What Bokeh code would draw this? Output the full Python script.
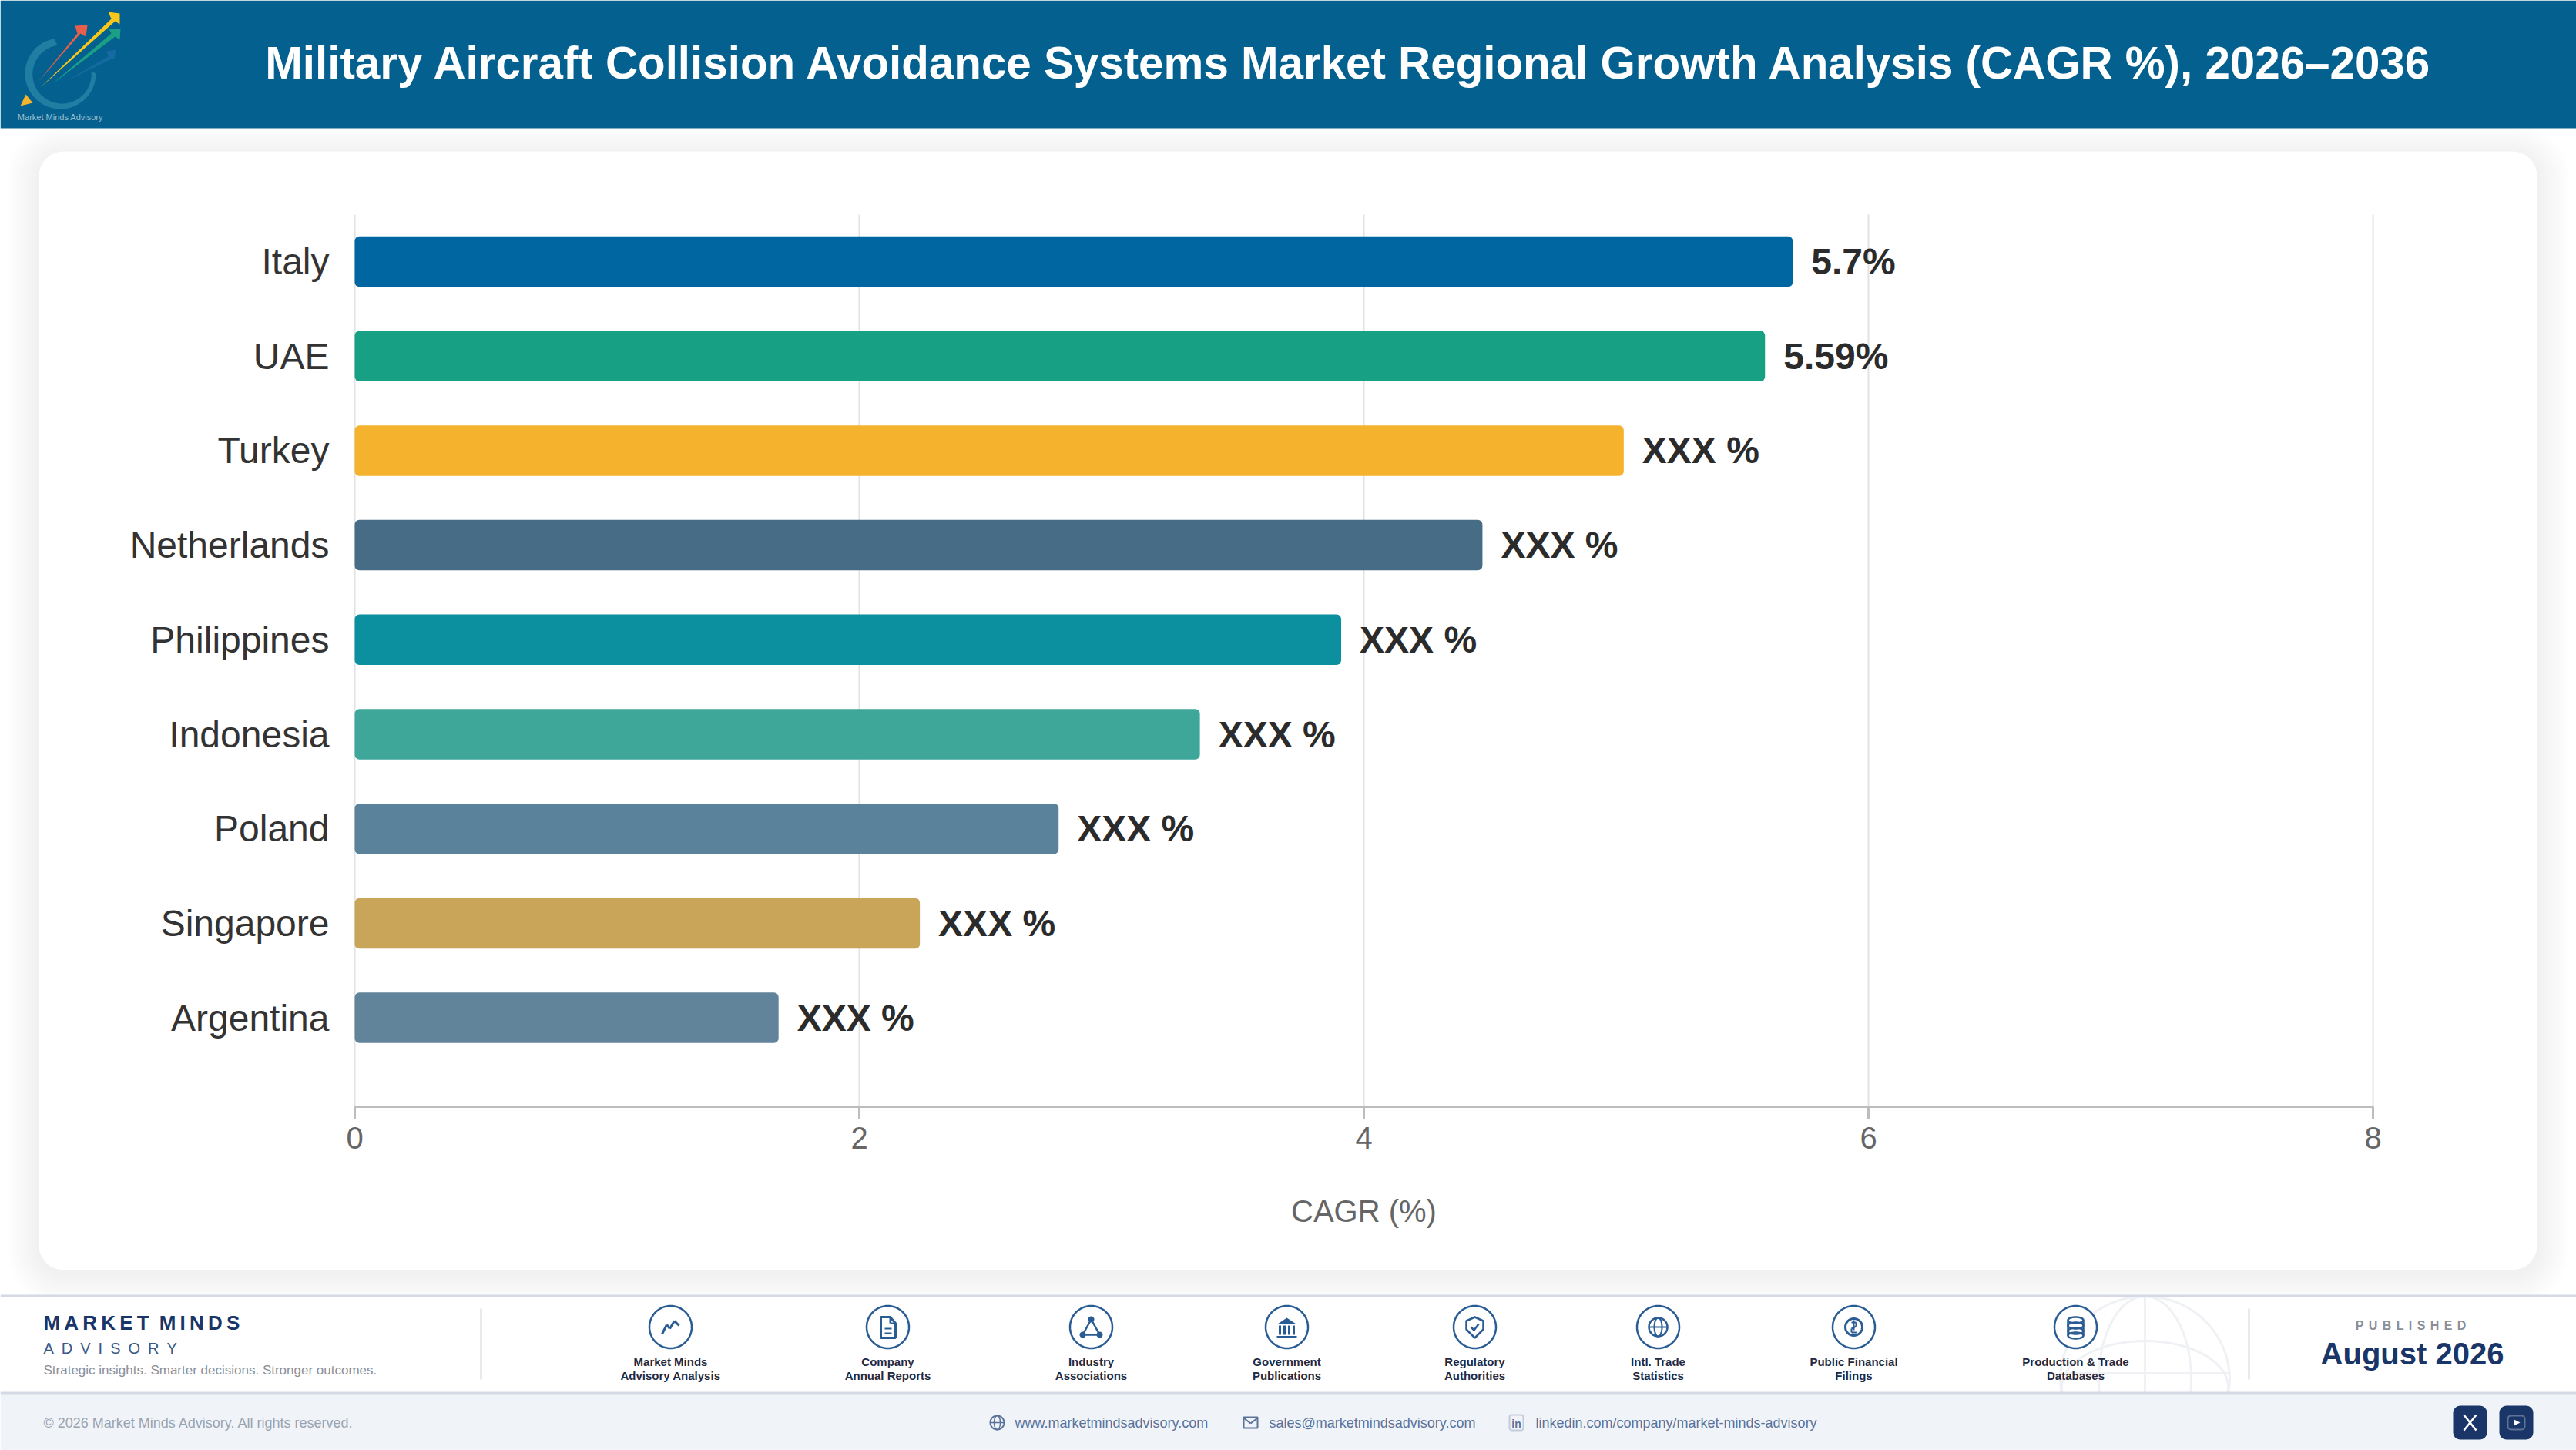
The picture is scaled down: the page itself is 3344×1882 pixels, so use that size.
import numpy as np
from bokeh.embed import file_html
from bokeh.models import (BoxAnnotation, ColumnDataSource, FixedTicker, Label,
                          LinearAxis, PolyAnnotation, Range1d)
from bokeh.plotting import figure
from bokeh.resources import INLINE

# ---- data ----
categories = ["Italy", "UAE", "Turkey", "Netherlands", "Philippines",
              "Indonesia", "Poland", "Singapore", "Argentina"]
cagr_values = [5.70, 5.59, 5.03, 4.47, 3.91, 3.35, 2.79, 2.24, 1.68]
value_labels = ["5.7%", "5.59%", "XXX %", "XXX %", "XXX %", "XXX %", "XXX %", "XXX %", "XXX %"]
bar_colors = ["#0066A1", "#18A085", "#F5B22D", "#466C86", "#0C90A0",
              "#3FA69A", "#5A829B", "#C8A558", "#62849B"]
x_ticks = [0, 2, 4, 6, 8]
title_text = "Military Aircraft Collision Avoidance Systems Market Regional Growth Analysis (CAGR %), 2026\u20132036"
source_labels = [("Market Minds", "Advisory Analysis"), ("Company", "Annual Reports"),
                 ("Industry", "Associations"), ("Government", "Publications"),
                 ("Regulatory", "Authorities"), ("Intl. Trade", "Statistics"),
                 ("Public Financial", "Filings"), ("Production & Trade", "Databases")]

W, H = 3344, 1882
X0 = 460          # pixel of CAGR 0
PX = 327.5        # pixels per CAGR unit
PLOT_T, PLOT_B = 278, 1436
row_pitch = 122.7
row0 = 339


def row_of(y):
    return (y - row0) / row_pitch


p = figure(width=W, height=H, output_backend="svg", toolbar_location=None,
           x_range=Range1d(-X0 / PX, (W - X0) / PX),
           y_range=Range1d(row_of(H), row_of(0)),
           x_axis_type=None, y_axis_type=None,
           min_border_left=0, min_border_right=0, min_border_top=0, min_border_bottom=0)
p.border_fill_color = "#FFFFFF"
p.background_fill_color = "#FFFFFF"
p.outline_line_color = None

NAVY = "#1A3668"
ICON = "#2A5C94"
LVL = "image"


def sy(y):
    return H - float(y)


def box(l, t, r, b, color, alpha=1.0, radius=0, line=None, lw=1):
    p.add_layout(BoxAnnotation(left=float(l), right=float(r), top=sy(t), bottom=sy(b),
                               left_units="screen", right_units="screen",
                               top_units="screen", bottom_units="screen",
                               fill_color=color, fill_alpha=alpha, line_color=line, line_width=lw,
                               border_radius=radius, level=LVL))


def poly(pts, fill=None, line=None, lw=1, alpha=1.0):
    p.add_layout(PolyAnnotation(xs=[float(a) for a, _ in pts], ys=[sy(b) for _, b in pts],
                                xs_units="screen", ys_units="screen",
                                fill_color=fill if fill else "#FFFFFF", fill_alpha=alpha if fill else 0,
                                line_color=line if line else "#FFFFFF", line_alpha=alpha if line else 0,
                                line_width=lw, level=LVL))


def seg(pts, color, lw=2.5):
    for (x0, y0), (x1, y1) in zip(pts[:-1], pts[1:]):
        d = np.hypot(x1 - x0, y1 - y0) or 1
        nx, ny = -(y1 - y0) / d * lw / 2, (x1 - x0) / d * lw / 2
        poly([(x0 + nx, y0 + ny), (x1 + nx, y1 + ny), (x1 - nx, y1 - ny), (x0 - nx, y0 - ny)], fill=color)


def ell(cx, cy, rx, ry, line=None, fill=None, lw=2.5, alpha=1.0):
    t = np.linspace(0, 2 * np.pi, 72, endpoint=False)
    poly(list(zip(cx + rx * np.cos(t), cy + ry * np.sin(t))), fill=fill, line=line, lw=lw, alpha=alpha)


def text(x, y, s, size, color, bold=False, align="left"):
    p.add_layout(Label(x=float(x), y=sy(y), x_units="screen", y_units="screen", text=s,
                       text_font="Liberation Sans", text_font_size=f"{size}px",
                       text_font_style="bold" if bold else "normal", text_color=color,
                       text_align=align, text_baseline="middle", level=LVL))


# ---- page chrome ----
for i in range(14, 0, -1):
    box(50 - i * 3, 196 - i * 3 + 5, 3293 + i * 3, 1648 + i * 3 + 5, "#000000", 0.0035, 32 + i * 3)
box(50, 196, 3293, 1648, "#FFFFFF", 1.0, 32)

# header
box(0, 0, 3344, 166, "#04608F")
text(1752, 81, title_text, 58.3, "#FFFFFF", bold=True, align="center")

# logo
theta = np.radians(np.linspace(-100, -360, 70))
outer = [(78 + 46 * np.cos(a), 95 + 46 * np.sin(a)) for a in theta]
inner = [(80 + (38 + 4 * np.sin(a)) * np.cos(a), 92 + (38 + 4 * np.sin(a)) * np.sin(a)) for a in theta[::-1]]
poly(outer + inner, fill="#2C87A8", alpha=0.75)
poly([(48, 107), (100, 43), (97, 33), (113, 32), (111, 47), (104, 43)], fill="#E8604C")
poly([(52, 113), (144, 24), (140, 15), (155, 17), (155, 31), (149, 27)], fill="#F7C71C")
poly([(68, 108), (144, 43), (141, 37), (156, 37), (155, 51), (149, 47)], fill="#1BA085")
poly([(83, 106), (140, 73), (138, 66), (150, 64), (148, 76), (142, 77)], fill="#1A6EA5", alpha=0.8)
poly([(26, 137), (33, 122), (42, 133)], fill="#F7B32B")
text(78, 151, "Market Minds Advisory", 11, "#9CC0D2", align="center")

# footer bands and watermark globe
box(0, 1681, 3344, 1807, "#FFFFFF")
GLOBE = "#F0F1F5"
ell(2784, 1790, 110, 108, line=GLOBE, lw=3)
ell(2784, 1790, 60, 108, line=GLOBE, lw=3)
ell(2784, 1800, 108, 60, line=GLOBE, lw=3)
seg([(2784, 1682), (2784, 1807)], GLOBE, 3)
seg([(2674, 1782), (2894, 1782)], GLOBE, 3)
box(0, 1807, 3344, 1882, "#F0F4F9")
box(0, 1680, 3344, 1683, "#D5D9E6")
box(0, 1806, 3344, 1809, "#D5D9E6")
box(623, 1698, 625, 1790, "#D0D5DD")
box(2918, 1698, 2920, 1790, "#D0D5DD")

# footer left block
T2 = "\u2009"
E2 = "\u2002"
text(56, 1716, T2.join("MARKET") + E2 + T2.join("MINDS"), 26, NAVY, bold=True)
text(56, 1749, E2.join("ADVISORY"), 20, "#3D5A85")
text(56, 1778, "Strategic insights. Smarter decisions. Stronger outcomes.", 17, "#8A8F99")

# source icons
icon_x = [870, 1152, 1416, 1670, 1914, 2152, 2406, 2694]
icon_y = 1722
for cx, (a, b) in zip(icon_x, source_labels):
    ell(cx, icon_y, 27.5, 27.5, line=ICON, fill="#FFFFFF", lw=2.5)
    text(cx, 1767, a, 15, "#1F2A44", bold=True, align="center")
    text(cx, 1785, b, 15, "#1F2A44", bold=True, align="center")

c = icon_x[0]
seg([(c - 11, icon_y + 9), (c - 5, icon_y - 3), (c - 1, icon_y + 2), (c + 5, icon_y - 8), (c + 11, icon_y - 2)], ICON, 3)
c = icon_x[1]
poly([(c - 9, icon_y - 13), (c + 3, icon_y - 13), (c + 10, icon_y - 5), (c + 10, icon_y + 14), (c - 9, icon_y + 14)], line=ICON, lw=3)
seg([(c + 3, icon_y - 13), (c + 3, icon_y - 5), (c + 10, icon_y - 5)], ICON, 2)
seg([(c - 4, icon_y + 2), (c + 5, icon_y + 2)], ICON, 2)
seg([(c - 4, icon_y + 8), (c + 5, icon_y + 8)], ICON, 2)
c = icon_x[2]
poly([(c, icon_y - 10), (c + 11, icon_y + 10), (c - 11, icon_y + 10)], line=ICON, lw=2.5)
for dx, dy in [(0, -10), (11, 10), (-11, 10)]:
    ell(c + dx, icon_y + dy, 4, 4, fill=ICON)
c = icon_x[3]
poly([(c, icon_y - 12), (c + 12, icon_y - 4), (c - 12, icon_y - 4)], fill=ICON)
for dx in [-9, -3, 3, 9]:
    seg([(c + dx, icon_y - 2), (c + dx, icon_y + 10)], ICON, 3)
seg([(c - 13, icon_y + 13), (c + 13, icon_y + 13)], ICON, 3)
c = icon_x[4]
poly([(c, icon_y - 13), (c + 11, icon_y - 8), (c + 11, icon_y + 3), (c, icon_y + 14), (c - 11, icon_y + 3), (c - 11, icon_y - 8)], line=ICON, lw=2.5)
seg([(c - 5, icon_y), (c - 1, icon_y + 4), (c + 5, icon_y - 4)], ICON, 2.5)
c = icon_x[5]
ell(c, icon_y, 12, 12, line=ICON, lw=2.5)
ell(c, icon_y, 5, 12, line=ICON, lw=2)
seg([(c - 12, icon_y), (c + 12, icon_y)], ICON, 2)
c = icon_x[6]
ell(c, icon_y, 11, 11, line=ICON, lw=3)
seg([(c - 3, icon_y - 6), (c + 3, icon_y - 6), (c + 3, icon_y - 1), (c - 3, icon_y + 2), (c - 3, icon_y + 7), (c + 4, icon_y + 7)], ICON, 2)
seg([(c, icon_y - 9), (c, icon_y + 4)], ICON, 2)
c = icon_x[7]
for dy in [-9, -2, 5, 11]:
    ell(c, icon_y + dy, 10, 4, line=ICON, lw=2.5)
seg([(c - 10, icon_y - 9), (c - 10, icon_y + 11)], ICON, 2.5)
seg([(c + 10, icon_y - 9), (c + 10, icon_y + 11)], ICON, 2.5)

# published block
text(3129, 1720, (T2 + T2).join("PUBLISHED"), 16, "#8A8F99", bold=True, align="center")
text(3131, 1756, "August 2026", 40, NAVY, bold=True, align="center")

# bottom band
LINK = "#5A7299"
text(56, 1846, "\u00a9 2026 Market Minds Advisory. All rights reserved.", 18, "#9AA3B0")
text(1317, 1846, "www.marketmindsadvisory.com", 18, LINK)
text(1647, 1846, "sales@marketmindsadvisory.com", 18, LINK)
text(1993, 1846, "linkedin.com/company/market-minds-advisory", 18, LINK)
ell(1294, 1846, 9, 9, line=LINK, lw=2)
ell(1294, 1846, 4, 9, line=LINK, lw=1.5)
seg([(1285, 1846), (1303, 1846)], LINK, 1.5)
poly([(1614, 1839), (1632, 1839), (1632, 1853), (1614, 1853)], line=LINK, lw=2)
seg([(1614, 1840), (1623, 1847), (1632, 1840)], LINK, 2)
box(1959, 1836, 1977, 1856, "#F0F4F9", 1.0, 3, line=LINK, lw=2)
text(1968, 1847, "in", 14, LINK, bold=True, align="center")
box(3184, 1824, 3228, 1868, NAVY, 1.0, 9)
box(3244, 1824, 3288, 1868, NAVY, 1.0, 9)
seg([(3198, 1836), (3214, 1856)], "#FFFFFF", 2.5)
seg([(3214, 1836), (3198, 1856)], "#FFFFFF", 2.5)
box(3255, 1837, 3277, 1855, NAVY, 1.0, 4, line="#FFFFFF", lw=2)
poly([(3263, 1842), (3271, 1846), (3263, 1850)], fill="#FFFFFF")

# ---- chart ----
p.segment(x0=x_ticks, x1=x_ticks, y0=[row_of(PLOT_T)] * len(x_ticks), y1=[row_of(PLOT_B)] * len(x_ticks),
          line_color="#E2E2E2", line_width=2, level="underlay")

src = ColumnDataSource(dict(row=list(range(len(categories))), value=cagr_values,
                            label=value_labels, color=bar_colors))
p.hbar(y="row", right="value", left=0, height=0.534, color="color", line_color=None,
       border_radius=6, source=src)
p.text(x="value", y="row", text="label", source=src, x_offset=24, text_baseline="middle",
       text_font=dict(value="Liberation Sans"), text_font_size="48px", text_font_style="bold",
       text_color="#2B2B2B")

xaxis = LinearAxis(ticker=FixedTicker(ticks=x_ticks), axis_label="CAGR (%)", bounds=(0, 8),
                   fixed_location=row_of(PLOT_B))
xaxis.axis_line_color = "#BDBDBD"
xaxis.axis_line_width = 3
xaxis.major_tick_line_color = "#BDBDBD"
xaxis.major_tick_line_width = 3
xaxis.major_tick_out = 16
xaxis.major_tick_in = 0
xaxis.minor_tick_line_color = None
xaxis.major_label_standoff = 10
xaxis.major_label_text_font = "Liberation Sans"
xaxis.major_label_text_font_size = "40px"
xaxis.major_label_text_color = "#666666"
xaxis.axis_label_text_font = "Liberation Sans"
xaxis.axis_label_text_font_size = "40px"
xaxis.axis_label_text_font_style = "normal"
xaxis.axis_label_text_color = "#666666"
xaxis.axis_label_standoff = 56
p.add_layout(xaxis, "below")

yaxis = LinearAxis(ticker=FixedTicker(ticks=list(range(len(categories)))),
                   major_label_overrides=dict(enumerate(categories)), fixed_location=0)
yaxis.axis_line_color = None
yaxis.major_tick_line_color = None
yaxis.minor_tick_line_color = None
yaxis.major_label_standoff = 27
yaxis.major_label_text_font = "Liberation Sans"
yaxis.major_label_text_font_size = "48px"
yaxis.major_label_text_color = "#333333"
p.add_layout(yaxis, "left")

open("out.html", "w").write(file_html(p, INLINE))
